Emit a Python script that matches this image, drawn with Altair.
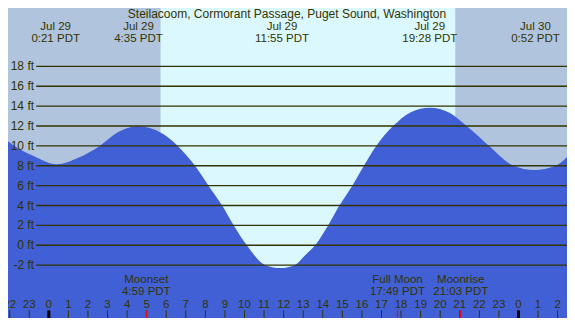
import altair as alt
import pandas as pd

W, H = 559, 310
SX = W / 575.0
SY = H / 326.0

# ---- data ----
tide_hours = [-2.09, -1.75, -0.8, 0.4, 1.5, 2.6, 3.5, 4.54, 5.8, 6.59, 7.47, 8.16,
              8.86, 9.45, 10.12, 11.06, 11.85, 12.6, 13.1, 13.61, 14.27, 14.85,
              15.51, 16.1, 16.73, 17.59, 18.5, 19.47, 20.5, 21.35, 22.5, 23.75,
              24.8, 25.9, 26.48]
tide_ft = [10.48, 10.0, 9.0, 8.15, 8.8, 10.0, 11.35, 11.98, 11.25, 10.0, 8.0, 6.0,
           4.0, 2.0, 0.0, -2.0, -2.3, -1.95, -1.0, 0.0, 2.0, 4.0,
           6.0, 8.0, 10.0, 12.0, 13.4, 13.85, 13.3, 12.0, 10.0, 8.0,
           7.58, 8.0, 8.88]

event_hours = [0.35, 4.583, 11.917, 19.467, 24.867]
event_dates = ["Jul 29", "Jul 29", "Jul 29", "Jul 29", "Jul 30"]
event_times = ["0:21 PDT", "4:35 PDT", "11:55 PDT", "19:28 PDT", "0:52 PDT"]

moon_hours = [4.983, 17.817, 21.05]
moon_names = ["Moonset", "Full Moon", "Moonrise"]
moon_times = ["4:59 PDT", "17:49 PDT", "21:03 PDT"]

sunrise_hour = 5.71
sunset_hour = 20.77

grid_ft = [-2, 0, 2, 4, 6, 8, 10, 12, 14, 16, 18]
grid_labels = ["-2 ft", "0 ft", "2 ft", "4 ft", "6 ft", "8 ft", "10 ft",
               "12 ft", "14 ft", "16 ft", "18 ft"]

tick_hours = list(range(-2, 27))
tick_labels = ["22", "23", "0", "1", "2", "3", "4", "5", "6", "7", "8", "9", "10",
               "11", "12", "13", "14", "15", "16", "17", "18", "19", "20", "21",
               "22", "23", "0", "1", "2"]
midnight_hours = [0, 24]

title_text = "Steilacoom, Cormorant Passage, Puget Sound, Washington"

# ---- styling ----
NIGHT = "#b0c4de"
DAY = "#dcf8ff"
BLUE = "#4160d6"
INK = "#333300"
FONT = "Liberation Sans"
FS = 12
Y_MIN, Y_MAX = -7.32, 23.88

x_scale = alt.Scale(domain=[-2.086, 26.48], nice=False, zero=False)
y_scale = alt.Scale(domain=[Y_MIN, Y_MAX], nice=False, zero=False)


def X(f):
    return alt.X(f, type="quantitative", scale=x_scale, axis=None)


def Y(f):
    return alt.Y(f, type="quantitative", scale=y_scale, axis=None)


tide_df = pd.DataFrame({"h": tide_hours, "ft": tide_ft})
sun_df = pd.DataFrame({"a": [sunrise_hour], "b": [sunset_hour]})
grid_df = pd.DataFrame({"ft": grid_ft, "lab": grid_labels})
ev_df = pd.DataFrame({"h": event_hours, "d": event_dates, "t": event_times})
moon_df = pd.DataFrame({"h": moon_hours, "n": moon_names, "t": moon_times})
tick_df = pd.DataFrame({"h": tick_hours, "lab": tick_labels})
mid_df = pd.DataFrame({"h": midnight_hours})
title_df = pd.DataFrame({"t": [title_text]})

day = alt.Chart(sun_df).mark_rect(color=DAY).encode(
    x=X("a"), x2="b", y=alt.value(0), y2=alt.value(H))

area = alt.Chart(tide_df).mark_area(color=BLUE, interpolate="monotone").encode(
    x=X("h"), y=Y("ft"), y2=alt.datum(Y_MIN))

grid = alt.Chart(grid_df).mark_rule(color=INK, strokeWidth=1.4).encode(
    y=Y("ft"), x=alt.value(29 * SX), x2=alt.value(W))

grid_text = alt.Chart(grid_df).mark_text(
    font=FONT, fontSize=FS, color=INK, align="right", baseline="middle").encode(
    y=Y("ft"), x=alt.value(26.8 * SX), text="lab")

title = alt.Chart(title_df).mark_text(
    font=FONT, fontSize=12, color=INK, align="center", baseline="middle").encode(
    x=alt.value(287 * SX), y=alt.value(6 * SY), text="t")

ev_d = alt.Chart(ev_df).mark_text(
    font=FONT, fontSize=11.5, color=INK, align="center", baseline="middle").encode(
    x=X("h"), y=alt.value(20.3 * SY), text="d")
ev_t = alt.Chart(ev_df).mark_text(
    font=FONT, fontSize=11.5, color=INK, align="center", baseline="middle").encode(
    x=X("h"), y=alt.value(32.3 * SY), text="t")

moon_n = alt.Chart(moon_df).mark_text(
    font=FONT, fontSize=11.5, color=INK, align="center", baseline="middle").encode(
    x=X("h"), y=alt.value(286.5 * SY), text="n")
moon_t = alt.Chart(moon_df).mark_text(
    font=FONT, fontSize=11.5, color=INK, align="center", baseline="middle").encode(
    x=X("h"), y=alt.value(299 * SY), text="t")

ticks = alt.Chart(tick_df).mark_rule(color=INK, strokeWidth=1).encode(
    x=X("h"), y=alt.value(318 * SY), y2=alt.value(H))
tick_text = alt.Chart(tick_df).mark_text(
    font=FONT, fontSize=11.5, color=INK, align="center", baseline="middle").encode(
    x=X("h"), y=alt.value(312 * SY), text="lab")
mid_ticks = alt.Chart(mid_df).mark_rule(color="#000000", strokeWidth=3).encode(
    x=X("h"), y=alt.value(318 * SY), y2=alt.value(H))
moon_ticks = alt.Chart(moon_df).mark_rule(color="#ff0000", strokeWidth=1.2).encode(
    x=X("h"), y=alt.value(318 * SY), y2=alt.value(H))

chart = alt.layer(
    day, area, grid, grid_text, title, ev_d, ev_t, moon_n, moon_t,
    ticks, mid_ticks, moon_ticks, tick_text
).properties(
    width=W, height=H, padding=0,
    autosize=alt.AutoSizeParams(type="none"),
    background=NIGHT,
).configure_view(stroke=None)

chart.save("out.html", embed_options={"renderer": "svg", "actions": False})
